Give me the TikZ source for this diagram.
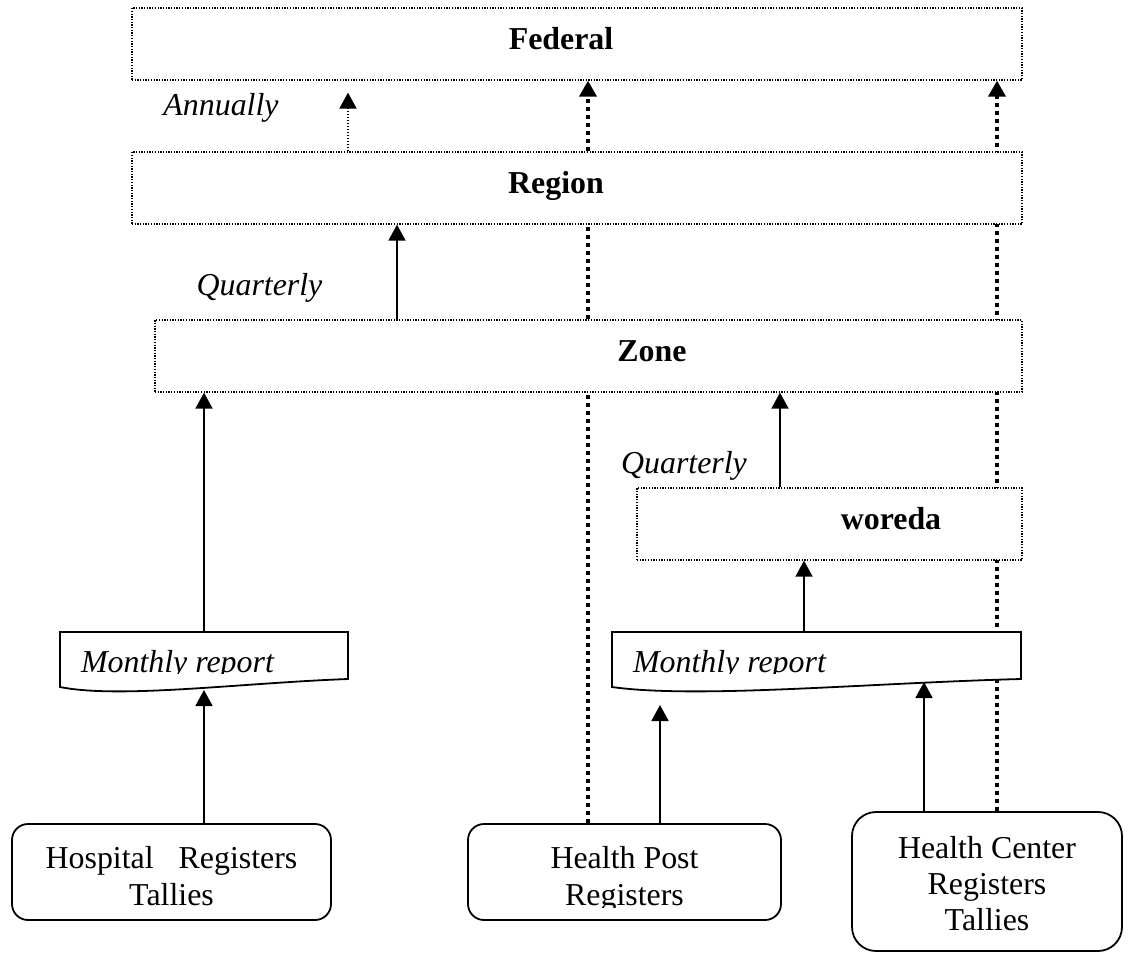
\documentclass[tikz,border=0pt]{standalone}
\usepackage{fontspec}
\setmainfont{Liberation Serif}
\usetikzlibrary{arrows.meta}
\pgfdeclarelayer{background}
\pgfsetlayers{background,main}
\begin{document}
\begin{tikzpicture}[x=1bp,y=-1bp,
  tip/.style={-{Triangle[width=17bp,length=16bp]}},
  levelbox/.style={draw, fill=white, line width=1.3bp, dash pattern=on 1.3bp off 1.4bp,
    inner sep=0pt, minimum height=72bp},
  sourcebox/.style={draw, fill=white, line width=1.8bp, rounded corners=16bp, inner sep=0pt},
  report/.style={draw, fill=white, line width=1.8bp},
  feed/.style={line width=1.8bp, tip},
  yearly/.style={line width=2bp, dash pattern=on 1.6bp off 1.4bp, tip},
  direct/.style={line width=3.8bp, dash pattern=on 3.8bp off 4.2bp, tip},
  txt/.style={font=\fontsize{32}{37}\selectfont, anchor=base, inner sep=0pt},
  lvl/.style={txt, font=\fontsize{32}{37}\selectfont\bfseries},
  freq/.style={txt, font=\fontsize{32}{37}\selectfont\itshape},
]
\useasboundingbox (0,0) rectangle (1135,953);
\begin{pgfonlayer}{background}
  \fill[white] (0,0) rectangle (1135,953);
\end{pgfonlayer}

% reporting levels
\node[levelbox, minimum width=890bp] (federal) at (577,44) {};
\node[lvl] (federalt) at (561,49) {Federal};
\node[levelbox, minimum width=890bp] (region) at (577,188) {};
\node[lvl] (regiont) at (556,193) {Region};
\node[levelbox, minimum width=867bp] (zone) at (588.5,356) {};
\node[lvl] (zonet) at (652,361) {Zone};
\node[levelbox, minimum width=385bp] (woreda) at (829.5,524) {};
\node[lvl] (woredat) at (891,529) {woreda};

% reporting frequencies
\node[freq] (annual) at (221,115) {Annually};
\node[freq] (quarterA) at (259.5,295) {Quarterly};
\node[freq] (quarterB) at (684,473) {Quarterly};

% monthly report documents
\draw[report] (60,632) -- (348,632) -- (348,679)
  .. controls (240,683) and (120,699) .. (60,687) -- cycle;
\begin{scope}
  \clip (60,632) rectangle (348,673);
  \node[freq] (reportAt) at (177.5,672) {Monthly report};
\end{scope}
\draw[report] (612,632) -- (1021,632) -- (1021,679)
  .. controls (868,683) and (697,699) .. (612,687) -- cycle;
\begin{scope}
  \clip (612,632) rectangle (1021,673);
  \node[freq] (reportBt) at (729.5,672) {Monthly report};
\end{scope}
\coordinate (repAtop) at (204,632);
\coordinate (repAbot) at (204,690);
\coordinate (repBtop) at (804,632);
\coordinate (repBpost) at (660,705);
\coordinate (repBhc) at (924,682);

% data sources
\node[sourcebox, minimum width=319bp, minimum height=96bp] (hospital) at (171.5,872) {};
\node[txt] (hospitalA) at (171.5,868) {Hospital\hspace{25bp}Registers};
\node[txt] (hospitalB) at (171.5,905) {Tallies};
\node[sourcebox, minimum width=313bp, minimum height=96bp] (hpost) at (624.5,872) {};
\node[txt] (hpostA) at (624.5,868) {Health Post};
\begin{scope}
  \clip (468,824) rectangle (781,907);
  \node[txt] (hpostB) at (624.5,905) {Registers};
\end{scope}
\node[sourcebox, rounded corners=24bp, minimum width=270bp, minimum height=139bp] (hcenter) at (987,881.5) {};
\node[txt] (hcenterA) at (987,858) {Health Center};
\node[txt] (hcenterB) at (987,894) {Registers};
\node[txt] (hcenterC) at (987,930) {Tallies};

% connector columns
\coordinate (xAnn) at (348,0);
\coordinate (xQ) at (397,0);
\coordinate (xW) at (780,0);
\coordinate (xHP) at (588,0);
\coordinate (xHC) at (997,0);

\draw[yearly, shorten >=12bp] (region.north -| xAnn) -- (federal.south -| xAnn);
\draw[feed] (zone.north -| xQ) -- (region.south -| xQ);
\draw[feed] (repAtop) -- (zone.south -| repAtop);
\draw[feed] (hospital.north -| repAbot) -- (repAbot);
\draw[feed] (hpost.north -| repBpost) -- (repBpost);
\draw[feed] (hcenter.north -| repBhc) -- (repBhc);
\draw[feed] (repBtop) -- (woreda.south -| repBtop);
\draw[feed] (woreda.north -| xW) -- (zone.south -| xW);

% direct reporting lines, passing behind the level boxes
\begin{pgfonlayer}{background}
  \draw[direct] (hpost.north -| xHP) -- (federal.south -| xHP);
  \draw[direct] (hcenter.north -| xHC) -- (federal.south -| xHC);
\end{pgfonlayer}
\end{tikzpicture}
\end{document}
